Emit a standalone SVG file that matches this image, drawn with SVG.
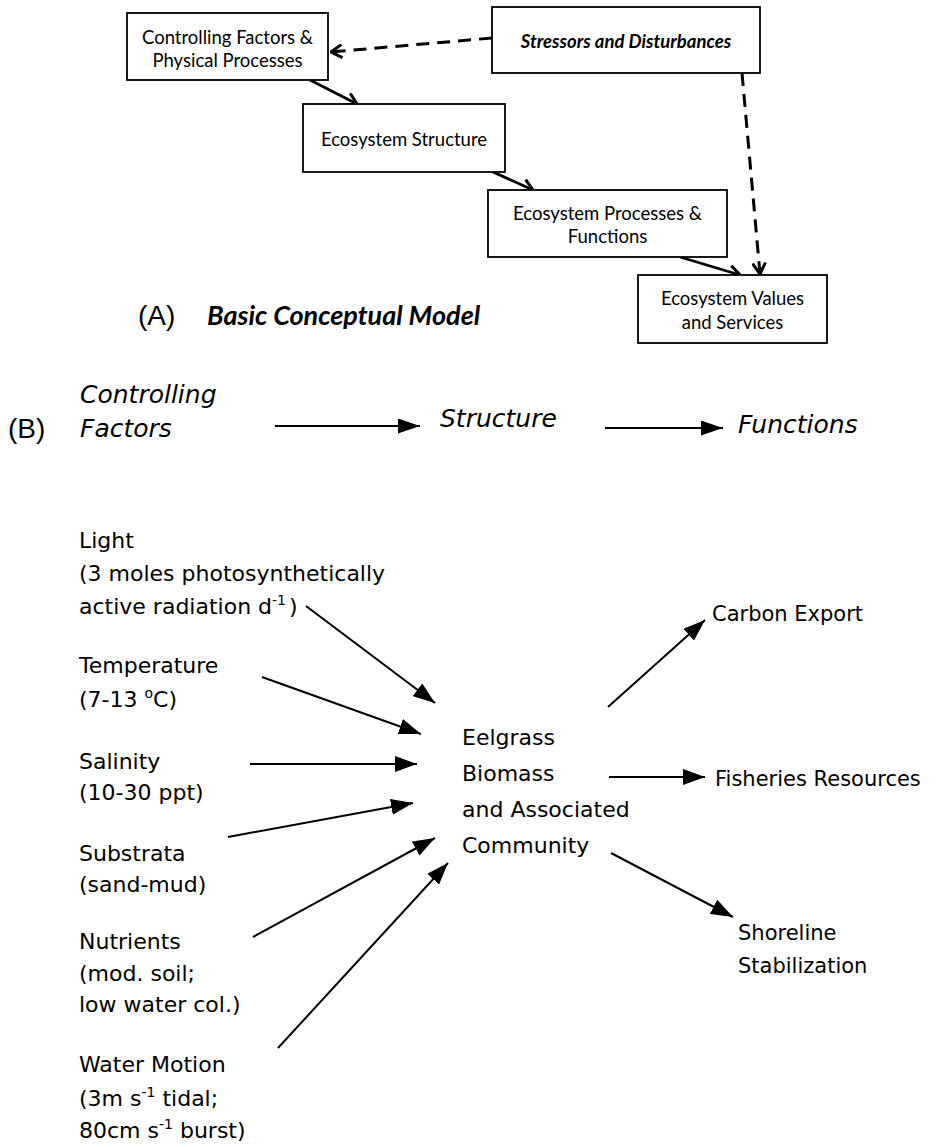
<svg xmlns="http://www.w3.org/2000/svg" width="944" height="1147" viewBox="0 0 944 1147">
<style>
.box{fill:#fff;stroke:#000;stroke-width:1.8}
.cal{font-family:Lato,"Open Sans",sans-serif;font-size:18.5px;text-anchor:middle;fill:#000}
.calbi{font-family:Lato,"Open Sans",sans-serif;font-weight:bold;font-style:italic}
.conn{stroke:#000;stroke-width:2.8;fill:none}
.dash{stroke-dasharray:13 8;stroke-width:3}
.arr{stroke:#000;stroke-width:2;fill:none}
.lbl{font-family:"DejaVu Sans",sans-serif;font-size:22px;fill:#000}
.rl{font-family:"DejaVu Sans",sans-serif;font-size:21px;fill:#000}
.it{font-family:"DejaVu Sans",sans-serif;font-style:italic;font-size:25px;fill:#000}
.hv{font-family:"Liberation Sans",Arial,sans-serif;font-size:28px;fill:#000}
.sup{font-size:14px}
</style>
<defs>
<marker id="open" markerUnits="userSpaceOnUse" viewBox="0 0 13 15" markerWidth="13" markerHeight="15" refX="12" refY="7.5" orient="auto"><path d="M1,1 L12,7.5 L1,14" fill="none" stroke="#000" stroke-width="3"/></marker>
<marker id="tri" markerUnits="userSpaceOnUse" viewBox="0 0 22 16" markerWidth="22" markerHeight="16" refX="22" refY="8" orient="auto"><path d="M0,0 L22,8 L0,16 z" fill="#000"/></marker>
<marker id="tri2" markerUnits="userSpaceOnUse" viewBox="0 0 22 15" markerWidth="22" markerHeight="15" refX="22" refY="7.5" orient="auto"><path d="M0,0 L22,7.5 L0,15 z" fill="#000"/></marker>
</defs>

<g id="connectors">
<line class="conn" x1="310" y1="80" x2="357" y2="104" marker-end="url(#open)"/>
<line class="conn" x1="493" y1="172" x2="533" y2="190" marker-end="url(#open)"/>
<line class="conn" x1="680" y1="257" x2="740" y2="275" marker-end="url(#open)"/>
<line class="conn dash" x1="492" y1="38" x2="331" y2="52" marker-end="url(#open)"/>
<line class="conn dash" x1="742" y1="73" x2="760" y2="274" marker-end="url(#open)"/>

<line class="arr" x1="275" y1="426" x2="420" y2="426" marker-end="url(#tri2)"/>
<line class="arr" x1="605" y1="428" x2="723" y2="428" marker-end="url(#tri2)"/>

<line class="arr" x1="306" y1="606" x2="435" y2="703" marker-end="url(#tri)"/>
<line class="arr" x1="262" y1="677" x2="421" y2="734" marker-end="url(#tri)"/>
<line class="arr" x1="250" y1="764" x2="417" y2="764" marker-end="url(#tri)"/>
<line class="arr" x1="228" y1="837" x2="413" y2="803" marker-end="url(#tri)"/>
<line class="arr" x1="253" y1="937" x2="435" y2="838" marker-end="url(#tri)"/>
<line class="arr" x1="278" y1="1048" x2="448" y2="863" marker-end="url(#tri)"/>

<line class="arr" x1="608" y1="707" x2="705" y2="620" marker-end="url(#tri)"/>
<line class="arr" x1="609" y1="777" x2="705" y2="777" marker-end="url(#tri)"/>
<line class="arr" x1="611" y1="853" x2="733" y2="917" marker-end="url(#tri)"/>
</g>

<g id="controlling">
<rect class="box" x="127" y="13" width="201" height="67"/>
<text class="cal" x="227.5" y="44">Controlling Factors &amp;</text>
<text class="cal" x="227.5" y="67">Physical Processes</text>
</g>
<g id="stressors">
<rect class="box" x="492" y="7" width="268" height="66"/>
<text class="cal calbi" x="626" y="48" font-size="19.5">Stressors and Disturbances</text>
</g>
<g id="structure">
<rect class="box" x="303" y="104" width="202" height="68"/>
<text class="cal" x="404" y="146">Ecosystem Structure</text>
</g>
<g id="processes">
<rect class="box" x="488" y="190" width="239" height="67"/>
<text class="cal" x="607.5" y="220">Ecosystem Processes &amp;</text>
<text class="cal" x="607.5" y="243">Functions</text>
</g>
<g id="values">
<rect class="box" x="638" y="275" width="189" height="68"/>
<text class="cal" x="732.5" y="305">Ecosystem Values</text>
<text class="cal" x="732.5" y="329">and Services</text>
</g>
<g id="title-a">
<text class="hv" x="138" y="325">(A)</text>
<text class="calbi" x="207" y="325" font-size="27">Basic Conceptual Model</text>
</g>

<g id="row-b">
<text class="hv" x="8" y="438">(B)</text>
<text class="it" x="80" y="403">Controlling</text>
<text class="it" x="80" y="437">Factors</text>
<text class="it" x="440" y="427" font-size="26">Structure</text>
<text class="it" x="738" y="433" font-size="26">Functions</text>
</g>

<g id="eelgrass">
<text class="lbl" x="462" y="745" font-size="25">Eelgrass</text>
<text class="lbl" x="462" y="781" font-size="25">Biomass</text>
<text class="lbl" x="462" y="817" font-size="25">and Associated</text>
<text class="lbl" x="462" y="853" font-size="25">Community</text>
</g>

<g id="light">
<text class="lbl" x="79" y="548">Light</text>
<text class="lbl" x="79" y="581">(3 moles photosynthetically</text>
<text class="lbl" x="79" y="614">active radiation d<tspan class="sup" dy="-9">-1</tspan><tspan dy="9" dx="3">)</tspan></text>
</g>
<g id="temperature">
<text class="lbl" x="79" y="673">Temperature</text>
<text class="lbl" x="79" y="707">(7-13 <tspan class="sup" dy="-9">o</tspan><tspan dy="9">C)</tspan></text>
</g>
<g id="salinity">
<text class="lbl" x="79" y="769">Salinity</text>
<text class="lbl" x="79" y="800">(10-30 ppt)</text>
</g>
<g id="substrata">
<text class="lbl" x="79" y="861">Substrata</text>
<text class="lbl" x="79" y="892">(sand-mud)</text>
</g>
<g id="nutrients">
<text class="lbl" x="79" y="949">Nutrients</text>
<text class="lbl" x="79" y="981">(mod. soil;</text>
<text class="lbl" x="79" y="1012">low water col.)</text>
</g>
<g id="water-motion">
<text class="lbl" x="79" y="1072">Water Motion</text>
<text class="lbl" x="79" y="1106">(3m s<tspan class="sup" dy="-9">-1</tspan><tspan dy="9"> tidal;</tspan></text>
<text class="lbl" x="79" y="1138">80cm s<tspan class="sup" dy="-9">-1</tspan><tspan dy="9"> burst)</tspan></text>
</g>

<g id="carbon-export">
<text class="rl" x="712" y="621">Carbon Export</text>
</g>
<g id="fisheries">
<text class="rl" x="715" y="786">Fisheries Resources</text>
</g>
<g id="shoreline">
<text class="rl" x="738" y="940">Shoreline</text>
<text class="rl" x="738" y="973">Stabilization</text>
</g>
</svg>
